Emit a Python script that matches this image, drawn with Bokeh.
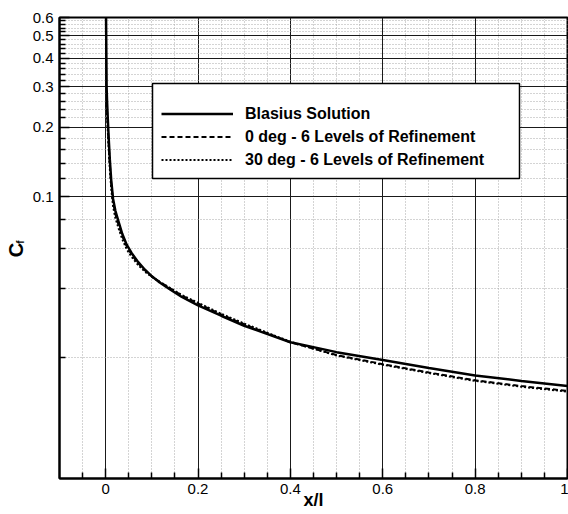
from bokeh.plotting import figure
from bokeh.models import (FixedTicker, Legend, LegendItem, BoxAnnotation,
                          Range1d, BasicTickFormatter, LinearAxis)
from bokeh.embed import file_html
from bokeh.resources import INLINE

# ---- data ----
x_blasius = [0.0003, 0.002, 0.003, 0.0045, 0.0065, 0.009, 0.012, 0.016, 0.021,
             0.028, 0.036, 0.0455, 0.056, 0.07, 0.085, 0.1, 0.117, 0.137, 0.165,
             0.2, 0.25, 0.3, 0.4, 0.5, 0.6, 0.7, 0.8, 0.9, 1.0]
cf_blasius = [0.8, 0.3, 0.26, 0.22, 0.18, 0.145, 0.118, 0.098, 0.087,
              0.078, 0.069, 0.062, 0.0571, 0.0522, 0.0483, 0.0452, 0.0425, 0.040,
              0.0368, 0.0338, 0.0305, 0.0276, 0.0234, 0.0212, 0.0196, 0.0181,
              0.0168, 0.0159, 0.0151]

x_0deg = [0.0018, 0.003, 0.0045, 0.0065, 0.009, 0.012, 0.016, 0.021, 0.028,
          0.036, 0.0455, 0.056, 0.07, 0.085, 0.1, 0.117, 0.137, 0.165, 0.2,
          0.25, 0.3, 0.4, 0.5, 0.6, 0.7, 0.8, 0.9, 1.0]
cf_0deg = [0.26, 0.235, 0.205, 0.17, 0.138, 0.114, 0.095, 0.084, 0.0755,
           0.0675, 0.061, 0.0563, 0.0516, 0.0480, 0.0452, 0.0428, 0.0404,
           0.0373, 0.0345, 0.0309, 0.0280, 0.0234, 0.0206, 0.0188, 0.0173,
           0.0160, 0.0151, 0.0144]

x_30deg = [0.0015, 0.003, 0.0045, 0.0065, 0.009, 0.012, 0.016, 0.021, 0.028,
           0.036, 0.0455, 0.056, 0.07, 0.085, 0.1, 0.117, 0.137, 0.165, 0.2,
           0.25, 0.3, 0.4, 0.5, 0.6, 0.7, 0.8, 0.9, 1.0]
cf_30deg = [0.25, 0.225, 0.195, 0.162, 0.132, 0.109, 0.091, 0.081, 0.073,
            0.0655, 0.0593, 0.0550, 0.0507, 0.0474, 0.0449, 0.0428, 0.0405,
            0.0375, 0.0347, 0.0311, 0.0282, 0.0235, 0.0205, 0.0187, 0.0172,
            0.0159, 0.0150, 0.0143]

series_names = ["Blasius Solution",
                "0 deg - 6 Levels of Refinement",
                "30 deg - 6 Levels of Refinement"]

x_ticks = [0.0, 0.2, 0.4, 0.6, 0.8, 1.0]
x_tick_labels = ["0", "0.2", "0.4", "0.6", "0.8", "1"]
x_minor_ticks = [-0.05, 0.05, 0.1, 0.15, 0.25, 0.3, 0.35, 0.45, 0.5, 0.55,
                 0.65, 0.7, 0.75, 0.85, 0.9, 0.95]
y_ticks = [0.1, 0.2, 0.3, 0.4, 0.5, 0.6]
y_tick_labels = ["0.1", "0.2", "0.3", "0.4", "0.5", "0.6"]
y_minor_ticks = [0.02, 0.04, 0.06, 0.08, 0.12, 0.14, 0.16, 0.18, 0.22, 0.24,
                 0.26, 0.28, 0.32, 0.34, 0.36, 0.38, 0.42, 0.44, 0.46, 0.48,
                 0.52, 0.54, 0.56, 0.58]

FONT = "Liberation Sans"

p = figure(width=568, height=514, x_range=Range1d(-0.1, 1.0),
           y_range=Range1d(0.006, 0.6), y_axis_type="log",
           output_backend="svg", toolbar_location=None,
           min_border_left=59, min_border_right=1,
           min_border_top=17, min_border_bottom=36)
p.background_fill_color = "white"
p.border_fill_color = "white"
p.outline_line_color = "black"
p.outline_line_width = 2

xt = FixedTicker(ticks=x_ticks, minor_ticks=x_minor_ticks)
yt = FixedTicker(ticks=y_ticks, minor_ticks=y_minor_ticks)
p.xaxis.ticker = xt
p.yaxis.ticker = yt
p.xgrid.ticker = xt
p.ygrid.ticker = yt
p.xaxis.formatter = BasicTickFormatter()
p.yaxis.formatter = BasicTickFormatter()
p.xaxis.major_label_overrides = dict(zip(x_ticks, x_tick_labels))
p.yaxis.major_label_overrides = dict(zip(y_ticks, y_tick_labels))

for ax in (p.xaxis, p.yaxis):
    ax.axis_line_color = "black"
    ax.axis_line_width = 2
    ax.major_tick_in = 10
    ax.major_tick_out = 0
    ax.minor_tick_in = 6
    ax.minor_tick_out = 0
    ax.major_tick_line_color = "black"
    ax.major_tick_line_width = 1.5
    ax.minor_tick_line_color = "black"
    ax.minor_tick_line_width = 1.5
    ax.major_label_text_font = FONT
    ax.major_label_text_font_size = "15px"
    ax.major_label_text_color = "black"
    ax.axis_label_text_font = FONT
    ax.axis_label_text_font_style = "bold"
    ax.axis_label_text_color = "black"
p.xaxis.major_label_standoff = 5
p.yaxis.major_label_standoff = 6

# x axis title
p.xaxis.axis_label = "x/l"
p.xaxis.axis_label_text_font_size = "18px"
p.xaxis.axis_label_standoff = -7

# y axis title: subscript "f" on the inner axis, "C" on an outer blank axis
p.yaxis.axis_label = "\u2003\u2009f"
p.yaxis.axis_label_text_font_size = "10px"
p.yaxis.axis_label_standoff = 4

c_axis = LinearAxis(ticker=FixedTicker(ticks=[]), axis_line_color=None,
                    major_tick_line_color=None, minor_tick_line_color=None,
                    major_tick_in=0, major_tick_out=0, minor_tick_in=0,
                    minor_tick_out=0, major_label_text_font_size="1px",
                    major_label_standoff=0,
                    axis_label="C\u2009", axis_label_text_font=FONT,
                    axis_label_text_font_style="bold",
                    axis_label_text_font_size="20px",
                    axis_label_text_color="black",
                    axis_label_standoff=-15)
p.add_layout(c_axis, "left")

for g in (p.xgrid, p.ygrid):
    g.grid_line_color = "#1a1a1a"
    g.grid_line_width = 1
    g.minor_grid_line_color = "#a8a8a8"
    g.minor_grid_line_width = 1
    g.minor_grid_line_dash = "1 2"

r_dash = p.line(x_0deg, cf_0deg, line_color="black", line_width=2, line_dash="5 3")
r_dot = p.line(x_30deg, cf_30deg, line_color="black", line_width=2, line_dash="2 2")
r_sol = p.line(x_blasius, cf_blasius, line_color="black", line_width=2.5)

box = BoxAnnotation(left=93, right=460, bottom=300, top=395,
                    left_units="screen", right_units="screen",
                    bottom_units="screen", top_units="screen",
                    fill_color="white", fill_alpha=1.0,
                    line_color="black", line_width=1.5, line_alpha=1.0)
p.add_layout(box)

legend = Legend(items=[LegendItem(label=series_names[0], renderers=[r_sol]),
                       LegendItem(label=series_names[1], renderers=[r_dash]),
                       LegendItem(label=series_names[2], renderers=[r_dot])],
                location=(102, 307), margin=0, padding=5, spacing=0,
                glyph_width=72, glyph_height=23, label_height=23,
                label_standoff=12, border_line_color=None,
                background_fill_alpha=0.0,
                label_text_font=FONT, label_text_font_style="bold",
                label_text_font_size="16px", label_text_color="black")
p.add_layout(legend, "center")

open("out.html", "w").write(file_html(p, INLINE))
